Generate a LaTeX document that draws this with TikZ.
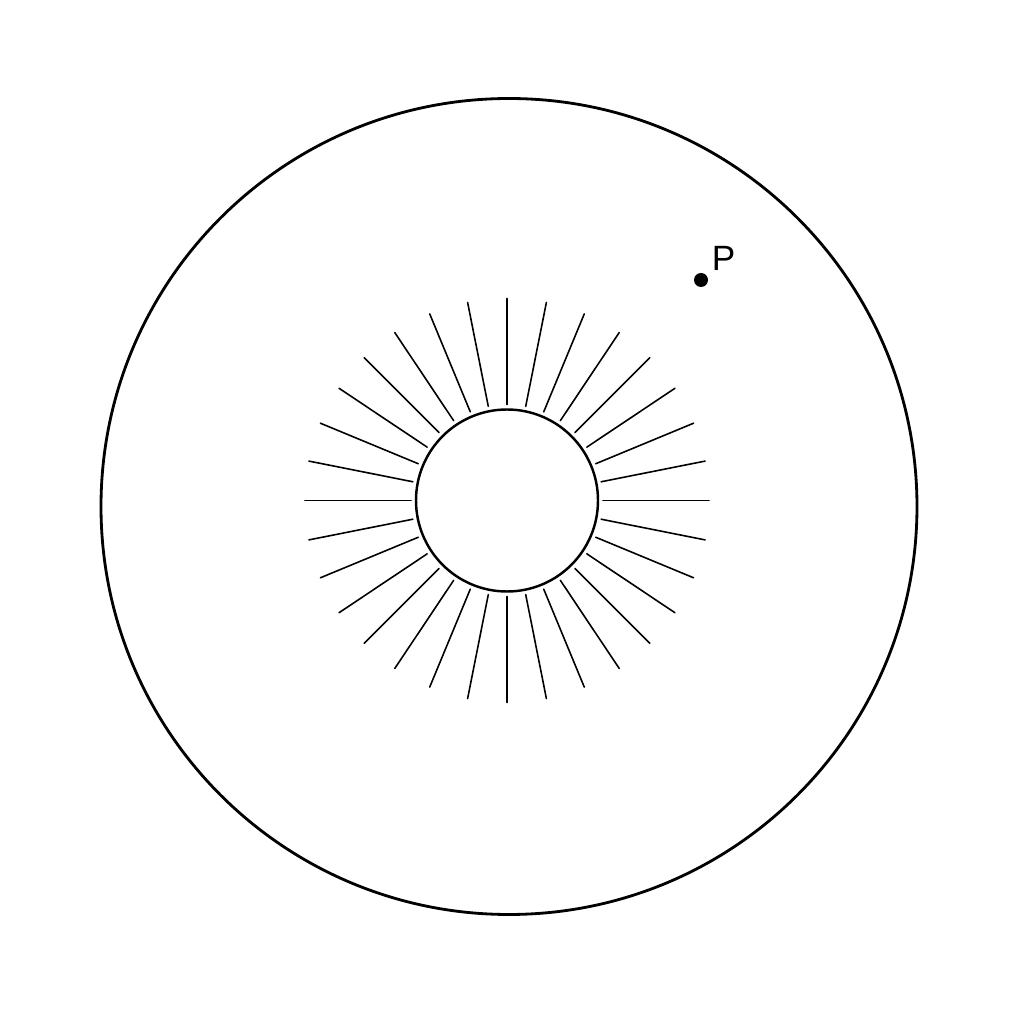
\documentclass[tikz,border=0pt]{standalone}
\usepackage{fontspec}
\setmainfont{Liberation Sans}
\usetikzlibrary{positioning}

\begin{document}
\begin{tikzpicture}[line cap=round,
			rim/.style={draw,line width=0.8pt},
			ray/.style={draw,line width=0.45pt},
			dot/.style={circle,fill,inner sep=0pt,minimum size=0.14cm}]
			\useasboundingbox (0,0) rectangle (10.24,10.24);
			\coordinate (o) at (5.09,5.175);
			\coordinate (c) at (5.07,5.235);
			\draw[rim] (o) circle (4.08);
			\draw[rim,line width=0.7pt] (c) circle (0.91);
			\foreach \a in {0,...,31}
			\draw[ray] ([shift={(\a*11.25:0.96)}]c) -- ([shift={(\a*11.25:2.02)}]c);
			\node[dot](p) at (7.01,7.44) {};
			\node[inner sep=0pt,font=\fontsize{10}{12}\selectfont](lp) at (7.235,7.66) {P};
			\end{tikzpicture}
\end{document}
